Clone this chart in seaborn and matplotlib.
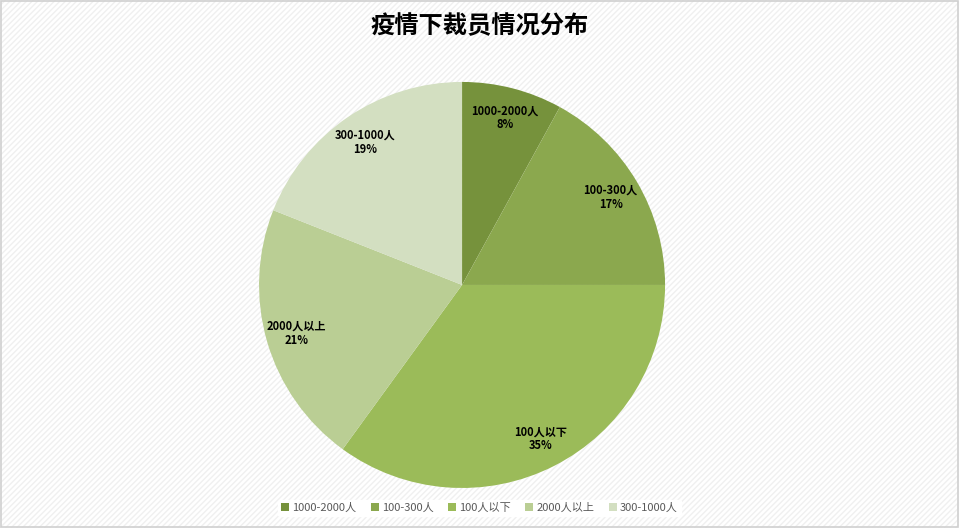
import matplotlib
matplotlib.use('Agg')
import matplotlib.pyplot as plt
import seaborn as sns
from matplotlib.patches import Rectangle

sns.set_theme(style='white')
plt.rcParams['font.family'] = ['Noto Sans CJK SC', 'DejaVu Sans']
plt.rcParams['hatch.linewidth'] = 1.0

# data
categories = ['1000-2000人', '100-300人', '100人以下', '2000人以上', '300-1000人']
shares = [8, 17, 35, 21, 19]
colors = ['#76923C', '#8BA84E', '#9BBB59', '#BACE94', '#D3DFC1']
title = '疫情下裁员情况分布'

fig = plt.figure(figsize=(9.59, 5.28), dpi=100)
fig.patch.set_facecolor('white')

# faint diagonal stripes + border like the source
bg = Rectangle((0, 0), 1, 1, transform=fig.transFigure, facecolor='white',
               edgecolor='#F0F0F0', hatch='//////', linewidth=0, zorder=-10)
fig.patches.append(bg)
border = Rectangle((0.001, 0.002), 0.998, 0.996, transform=fig.transFigure,
                   fill=False, edgecolor='#D0D0D0', linewidth=1.2, zorder=10)
fig.patches.append(border)

ax = fig.add_axes([0.2701, 0.0758, 0.4234, 0.769])
labels_iter = iter(categories)


def fmt(pct):
    return '%s\n%d%%' % (next(labels_iter), round(pct))


wedges, texts, autotexts = ax.pie(shares, colors=colors, startangle=90, counterclock=False,
                                  autopct=fmt, pctdistance=0.85,
                                  wedgeprops=dict(linewidth=0),
                                  textprops=dict(fontsize=8, fontweight='bold', color='black',
                                                 linespacing=1.1))
ax.set_xlim(-1, 1)
ax.set_ylim(-1, 1)
ax.set_aspect('equal')

fig.text(0.5, 0.95, title, ha='center', va='center', fontsize=17.5, fontweight='bold', color='black')

leg = fig.legend(wedges, categories, loc='center', bbox_to_anchor=(0.5, 0.038), ncol=5,
                 frameon=True, fontsize=8, handlelength=0.7, handleheight=0.7,
                 handletextpad=0.3, columnspacing=1.3, borderpad=0.3)
leg.get_frame().set_facecolor('white')
leg.get_frame().set_edgecolor('white')
leg.get_frame().set_alpha(1)
for t in leg.get_texts():
    t.set_color('#595959')

fig.savefig('out.png', dpi=100)
